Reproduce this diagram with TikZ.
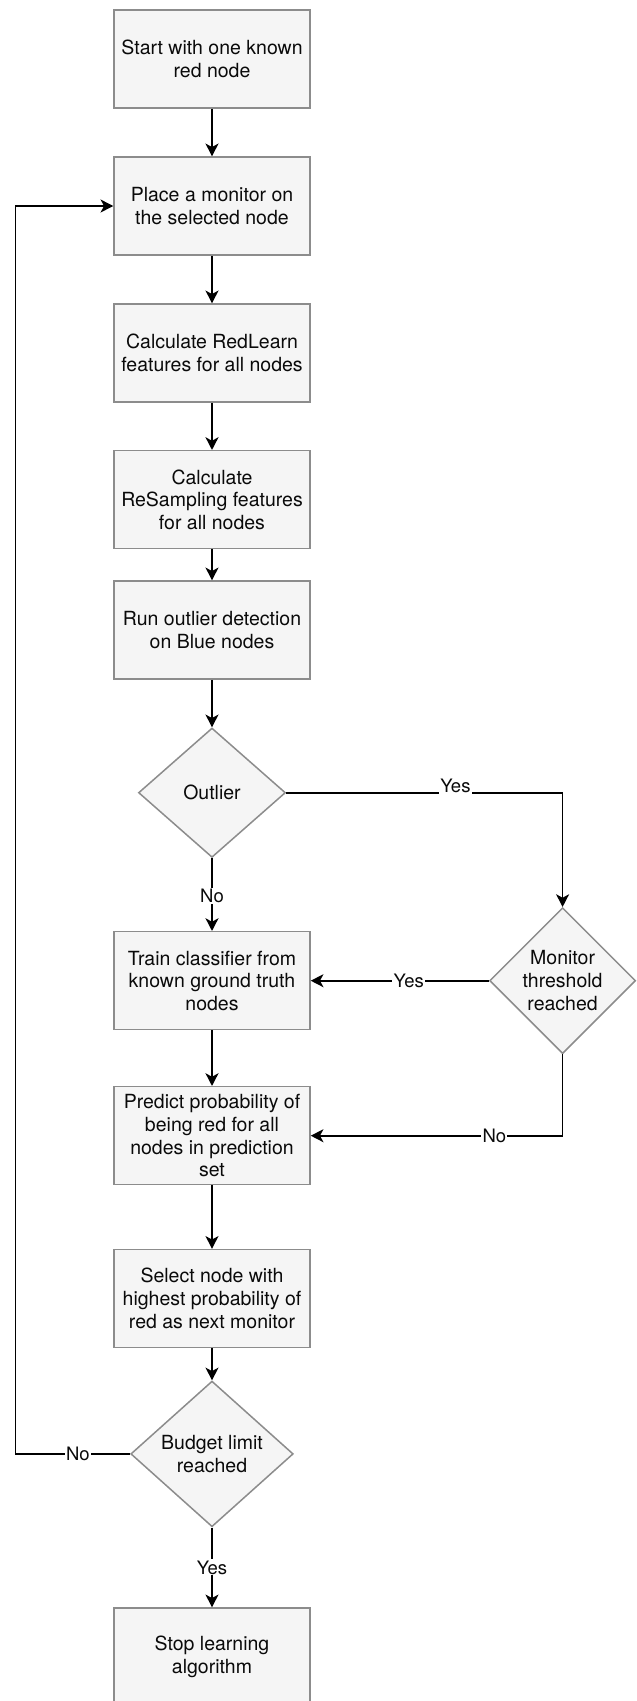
\documentclass[tikz,border=0pt]{standalone}
\usepackage{fontspec}
\setmainfont{TeX Gyre Heros}
\usetikzlibrary{shapes.geometric,arrows.meta}
\definecolor{boxfill}{HTML}{F5F5F5}
\definecolor{boxline}{HTML}{8C8C8C}
\definecolor{txt}{HTML}{0A0A0A}
\tikzset{
  stepbox/.style={draw=boxline, fill=boxfill, line width=1.5pt, minimum width=196pt, minimum height=98pt, inner sep=0pt, align=center, text=txt, font=\fontsize{19.5}{22.7}\selectfont},
  decision/.style={diamond, draw=boxline, fill=boxfill, line width=1.5pt, inner sep=0pt, align=center, text=txt, font=\fontsize{19.5}{22.7}\selectfont},
  arr/.style={line width=1.6pt, -{Stealth[length=12.7pt, width=13pt, inset=3.5pt]}},
  lbl/.style={fill=white, inner sep=1.2pt, text=txt, font=\fontsize{18.5}{20}\selectfont}
}
\begin{document}
\begin{tikzpicture}[x=1pt, y=-1pt]
\useasboundingbox (0,0) rectangle (637,1701);
\node[stepbox] (b1) at (212,59) {Start with one known\\red node};
\node[stepbox] (b2) at (212,206) {Place a monitor on\\the selected node};
\node[stepbox] (b3) at (212,353) {Calculate RedLearn\\features for all nodes};
\node[stepbox] (b4) at (212,499.7) {Calculate\\ReSampling features\\for all nodes};
\node[stepbox] (b5) at (212,630) {Run outlier detection\\on Blue nodes};
\node[decision, minimum width=147pt, minimum height=129.4pt] (out) at (212,792.7) {Outlier};
\node[stepbox] (b6) at (212,980.7) {Train classifier from\\known ground truth\\nodes};
\node[decision, minimum width=146pt, minimum height=146pt] (mon) at (562.6,980.7) {Monitor\\threshold\\reached};
\node[stepbox] (b7) at (212,1135.7) {Predict probability of\\being red for all\\nodes in prediction\\set};
\node[stepbox] (b8) at (212,1298.5) {Select node with\\highest probability of\\red as next monitor};
\node[decision, minimum width=162.5pt, minimum height=145.7pt] (bud) at (212,1453.9) {Budget limit\\reached};
\node[stepbox] (b9) at (212,1657) {Stop learning\\algorithm};
\coordinate (loop) at (15.4,1453.9);

\draw[arr] (b1) -- (b2);
\draw[arr] (b2) -- (b3);
\draw[arr] (b3) -- (b4);
\draw[arr] (b4) -- (b5);
\draw[arr] (b5) -- (out);
\draw[arr] (out) -- node[lbl, pos=0.52] {No} (b6);
\draw[arr] (out.east) -- node[lbl, pos=0.612, yshift=6.5pt] {Yes} (out.east -| mon.north) -- (mon.north);
\draw[arr] (mon.west) -- node[lbl, pos=0.45] {Yes} (b6.east);
\draw[arr] (mon.south) -- (mon.south |- b7.east) -- node[lbl, pos=0.271] {No} (b7.east);
\draw[arr] (b6) -- (b7);
\draw[arr] (b7) -- (b8);
\draw[arr] (b8) -- (bud);
\draw[arr] (bud) -- node[lbl, pos=0.5] {Yes} (b9);
\draw[arr] (bud.west) -- node[lbl, pos=0.455] {No} (loop) |- (b2.west);
\end{tikzpicture}
\end{document}
